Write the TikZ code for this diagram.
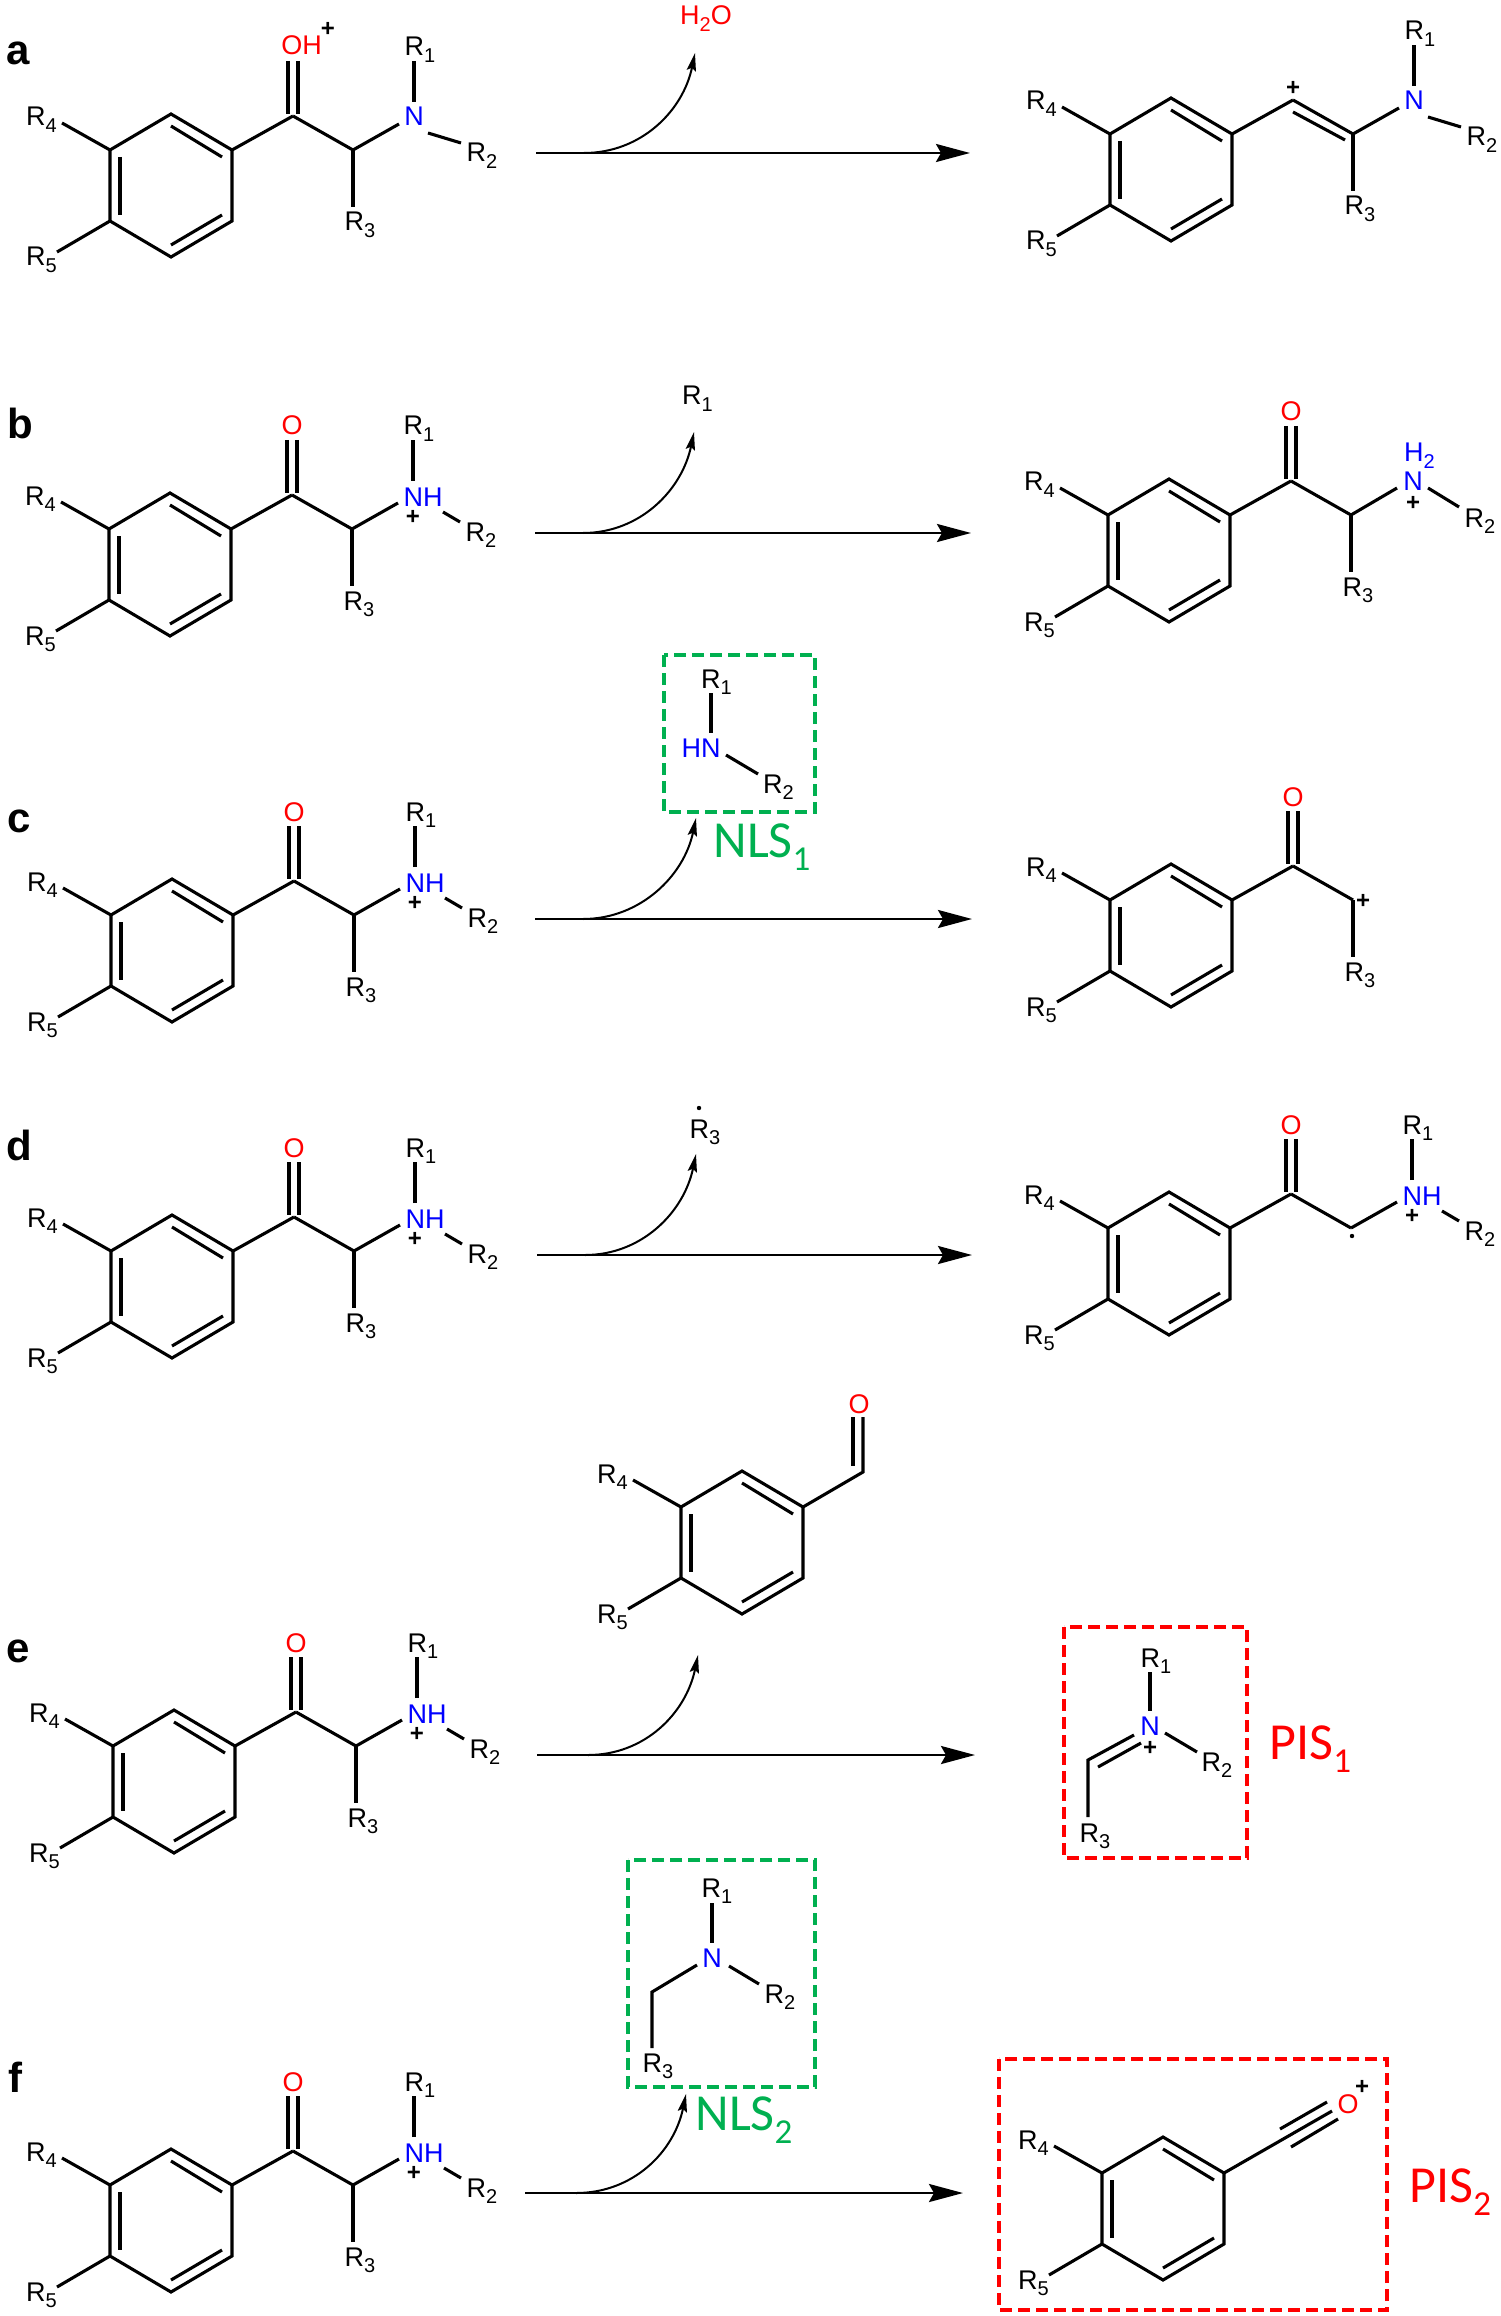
\documentclass[tikz,border=0pt]{standalone}
\usepackage{fontspec}
\setmainfont{Liberation Sans}
\newfontfamily\calfont{Carlito}
\usetikzlibrary{arrows.meta}
\definecolor{nlsgreen}{RGB}{0,176,80}
\newcommand{\low}[1]{\raisebox{-3.3pt}{\fontsize{10}{10}\selectfont #1}}
\newcommand{\lowbig}[1]{\raisebox{-6.5pt}{\fontsize{17.5}{17.5}\selectfont #1}}
\tikzset{
    bond/.style={line width=1.55pt},
    atom/.style={inner sep=0pt,anchor=base,font=\fontsize{13.5}{13.5}\selectfont},
    chg/.style={inner sep=0pt,font=\bfseries\fontsize{12}{12}\selectfont},
    radical/.style={circle,fill=black,inner sep=0pt,minimum size=2.2pt},
    panel/.style={inner sep=0pt,anchor=base,font=\bfseries\fontsize{21}{21}\selectfont},
    tag/.style={inner sep=0pt,anchor=base west,font=\calfont\fontsize{26}{26}\selectfont},
    mainarrow/.style={line width=1.3pt,-{Stealth[length=17pt,width=9pt,inset=2.5pt]}},
    sidearrow/.style={line width=1pt,-{Stealth[length=9pt,width=4.6pt,inset=1.5pt]}},
    nlsbox/.style={draw=nlsgreen,line width=2pt,dash pattern=on 6pt off 3pt},
    pisbox/.style={draw=red,line width=1.9pt,dash pattern=on 6pt off 3pt}
}
% benzene ring with R4 and R5, origin on the R4 carbon
\newcommand{\ringR}[3]{
    \begin{scope}[shift={(#2,#3)}]
        \coordinate (#1lt) at (0,0);
        \coordinate (#1top) at (61,-36);
        \coordinate (#1rt) at (122,0);
        \coordinate (#1rb) at (122,71);
        \coordinate (#1bot) at (61,107);
        \coordinate (#1lb) at (0,71);
        \draw[bond] (#1lt) -- (#1top) -- (#1rt) -- (#1rb) -- (#1bot) -- (#1lb) -- cycle;
        \draw[bond] (61,-24) -- (112,7);
        \draw[bond] (10,7) -- (10,65);
        \draw[bond] (61,95) -- (112,65);
        \coordinate (#1e4) at (-48,-27);
        \coordinate (#1e5) at (-53,102);
        \draw[bond] (#1lt) -- (#1e4);
        \draw[bond] (#1lb) -- (#1e5);
        \node[atom] (#1R4) at (-68.5,-24) {R\low{4}};
        \node[atom] (#1R5) at (-68.5,116) {R\low{5}};
    \end{scope}
}
\newcommand{\carbonylR}[3]{
    \begin{scope}[shift={(#2,#3)}]
        \coordinate (#1co) at (183,-34);
        \draw[bond] (#1rt) -- (#1co);
        \draw[bond] (178,-89) -- (178,-36);
        \draw[bond] (188,-89) -- (188,-36);
    \end{scope}
}
\newcommand{\ketoneR}[3]{
    \carbonylR{#1}{#2}{#3}
    \begin{scope}[shift={(#2,#3)}]
        \node[atom,red] (#1O) at (183,-94) {O};
    \end{scope}
}
\newcommand{\alphaR}[3]{
    \begin{scope}[shift={(#2,#3)}]
        \coordinate (#1ca) at (243,0);
        \draw[bond] (#1co) -- (#1ca);
    \end{scope}
}
\newcommand{\sideR}[3]{
    \begin{scope}[shift={(#2,#3)}]
        \coordinate (#1e3) at (243,57);
        \draw[bond] (#1ca) -- (#1e3);
        \node[atom] (#1R3) at (250,81) {R\low{3}};
    \end{scope}
}
% the R1 and R2 arms, #4 is the start of the R2 bond
\newcommand{\armsR}[4]{
    \begin{scope}[shift={(#2,#3)}]
        \coordinate (#1n1) at (304,-48);
        \coordinate (#1e1) at (304,-89);
        \coordinate (#1n2) at (#4,-17);
        \coordinate (#1e2) at (351,-7);
        \coordinate (#1nc) at (289,-26);
        \draw[bond] (#1ca) -- (#1nc);
        \draw[bond] (#1n1) -- (#1e1);
        \draw[bond] (#1n2) -- (#1e2);
        \node[atom] (#1R1) at (310,-94) {R\low{1}};
        \node[atom] (#1R2) at (372,12) {R\low{2}};
    \end{scope}
}
\newcommand{\ammoniumR}[3]{
    \armsR{#1}{#2}{#3}{334}
    \begin{scope}[shift={(#2,#3)}]
        \node[atom,blue] (#1N) at (314,-23) {NH};
        \node[chg] (#1plus) at (304,-12) {+};
    \end{scope}
}
\newcommand{\amineR}[3]{
    \armsR{#1}{#2}{#3}{318}
    \begin{scope}[shift={(#2,#3)}]
        \node[atom,blue] (#1N) at (304,-24) {N};
    \end{scope}
}
\begin{document}
\begin{tikzpicture}[x=0.5pt,y=-0.5pt]
    \useasboundingbox (0,0) rectangle (1500,2316);
    % panel letters
    \foreach \row/\lx/\ly in {a/18/65,b/20/439,c/19/832,d/19/1160,e/18/1662,f/15/2092}
        \node[panel] (\row-letter) at (\lx,\ly) {\row};
    % left hand molecules
    \ringR{a}{110}{150}
    \carbonylR{a}{110}{150}
    \node[atom,red] (aO) at (301.5,55) {OH};
    \node[chg] (aOplus) at (328,29) {+};
    \alphaR{a}{110}{150}
    \sideR{a}{110}{150}
    \amineR{a}{110}{150}
    \foreach \row/\x/\y in {b/109/529,c/111/915,d/111/1251,e/113/1746,f/110/2185}{
        \ringR{\row}{\x}{\y}
        \ketoneR{\row}{\x}{\y}
        \alphaR{\row}{\x}{\y}
        \sideR{\row}{\x}{\y}
        \ammoniumR{\row}{\x}{\y}
    }
    % reaction arrows
    \foreach \row/\sx/\cx/\ax/\ay/\ex/\ey in {a/536/584/695/53/970/153,b/535/583/694/432/971/533,
        c/535/583/696/818/972/919,d/537/585/696/1154/972/1255,e/537/588/698/1655/975/1755,
        f/525/576/686/2094/963/2193}{
        \coordinate (\row-start) at (\sx,\ey);
        \coordinate (\row-end) at (\ex,\ey);
        \coordinate (\row-split) at (\cx,\ey);
        \coordinate (\row-loss) at (\ax,\ay);
        \draw[mainarrow] (\row-start) -- (\row-end);
        \draw[sidearrow] (\row-split) .. controls +(57,0) and +(-12,58) .. (\row-loss);
    }
    % lost groups
    \node[atom,red] (water) at (706,25) {H\low{2}O};
    \node[atom] (lossb) at (697.5,405) {R\low{1}};
    \node[atom] (lossd) at (705,1138) {R\low{3}};
    \node[radical] (lossdot) at (699,1108) {};
    % NLS1
    \draw[nlsbox] (664,655) rectangle (815,812);
    \coordinate (g1) at (711,693);
    \coordinate (g2) at (711,733);
    \coordinate (g3) at (726,755);
    \coordinate (g4) at (758,774);
    \draw[bond] (g1) -- (g2);
    \draw[bond] (g3) -- (g4);
    \node[atom] (gR1) at (716.5,688) {R\low{1}};
    \node[atom,blue] (gN) at (701,757) {HN};
    \node[atom] (gR2) at (778.5,793) {R\low{2}};
    \node[tag,nlsgreen] (nls1) at (713,857) {NLS\lowbig{1}};
    % benzaldehyde
    \ringR{ald}{681}{1507}
    \coordinate (aldco) at (863,1472);
    \coordinate (aldo1) at (863,1417);
    \coordinate (aldo2) at (853,1417);
    \coordinate (aldo3) at (853,1466);
    \draw[bond] (aldrt) -- (aldco) -- (aldo1);
    \draw[bond] (aldo2) -- (aldo3);
    \node[atom,red] (aldO) at (859,1413) {O};
    % NLS2
    \draw[nlsbox] (628,1860) rectangle (815,2087);
    \coordinate (h1) at (712,1903);
    \coordinate (h2) at (712,1943);
    \coordinate (h3) at (729,1966);
    \coordinate (h4) at (759,1984);
    \coordinate (h5) at (697,1965);
    \coordinate (h6) at (652,1992);
    \coordinate (h7) at (652,2048);
    \draw[bond] (h1) -- (h2);
    \draw[bond] (h3) -- (h4);
    \draw[bond] (h5) -- (h6) -- (h7);
    \node[atom] (hR1) at (717,1897) {R\low{1}};
    \node[atom,blue] (hN) at (712,1967) {N};
    \node[atom] (hR2) at (780,2003) {R\low{2}};
    \node[atom] (hR3) at (658,2072) {R\low{3}};
    \node[tag,nlsgreen] (nls2) at (695,2130) {NLS\lowbig{2}};
    % right hand products
    \ringR{pa}{1110}{134}
    \coordinate (paco) at (1293,100);
    \draw[bond] (part) -- (paco);
    \alphaR{pa}{1110}{134}
    \draw[bond] (1293,112) -- (1345,140);
    \sideR{pa}{1110}{134}
    \amineR{pa}{1110}{134}
    \node[chg] (paplus) at (1293,88) {+};
    \ringR{pb}{1108}{515}
    \ketoneR{pb}{1108}{515}
    \alphaR{pb}{1108}{515}
    \sideR{pb}{1108}{515}
    \coordinate (pbnc) at (1397,488);
    \coordinate (pbn2) at (1428,488);
    \coordinate (pbe2) at (1459,507);
    \draw[bond] (pbca) -- (pbnc);
    \draw[bond] (pbn2) -- (pbe2);
    \node[atom,blue] (pbN) at (1413,491) {N};
    \node[atom,blue] (pbH) at (1419.5,462) {H\low{2}};
    \node[chg] (pbplus) at (1413,503) {+};
    \node[atom] (pbR2) at (1480,527) {R\low{2}};
    \ringR{pc}{1110}{900}
    \ketoneR{pc}{1110}{900}
    \alphaR{pc}{1110}{900}
    \sideR{pc}{1110}{900}
    \node[chg] (pcplus) at (1363,901) {+};
    \ringR{pd}{1108}{1228}
    \ketoneR{pd}{1108}{1228}
    \alphaR{pd}{1108}{1228}
    \ammoniumR{pd}{1108}{1228}
    \node[radical] (pddot) at (1352,1236) {};
    % PIS1
    \draw[pisbox] (1064,1627) rectangle (1247,1858);
    \coordinate (j1) at (1150,1672);
    \coordinate (j2) at (1150,1711);
    \coordinate (j3) at (1165,1733);
    \coordinate (j4) at (1197,1752);
    \coordinate (j5) at (1134,1735);
    \coordinate (j6) at (1088,1760);
    \coordinate (j7) at (1088,1817);
    \coordinate (j8) at (1098,1767);
    \coordinate (j9) at (1141,1743);
    \draw[bond] (j1) -- (j2);
    \draw[bond] (j3) -- (j4);
    \draw[bond] (j5) -- (j6) -- (j7);
    \draw[bond] (j8) -- (j9);
    \node[atom] (jR1) at (1156,1667) {R\low{1}};
    \node[atom,blue] (jN) at (1150,1735) {N};
    \node[chg] (jplus) at (1150,1748) {+};
    \node[atom] (jR2) at (1217,1771) {R\low{2}};
    \node[atom] (jR3) at (1095,1842) {R\low{3}};
    \node[tag,red] (pis1) at (1269,1759) {PIS\lowbig{1}};
    % PIS2
    \draw[pisbox] (999,2059) rectangle (1387,2310);
    \ringR{pf}{1102}{2173}
    \coordinate (k1) at (1332,2111);
    \coordinate (k2) at (1280,2129);
    \coordinate (k3) at (1327,2102);
    \coordinate (k4) at (1291,2147);
    \coordinate (k5) at (1338,2119);
    \draw[bond] (pfrt) -- (k1);
    \draw[bond] (k2) -- (k3);
    \draw[bond] (k4) -- (k5);
    \node[atom,red] (kO) at (1348,2113) {O};
    \node[chg] (kplus) at (1362,2087) {+};
    \node[tag,red] (pis2) at (1409,2202) {PIS\lowbig{2}};
\end{tikzpicture}
\end{document}
